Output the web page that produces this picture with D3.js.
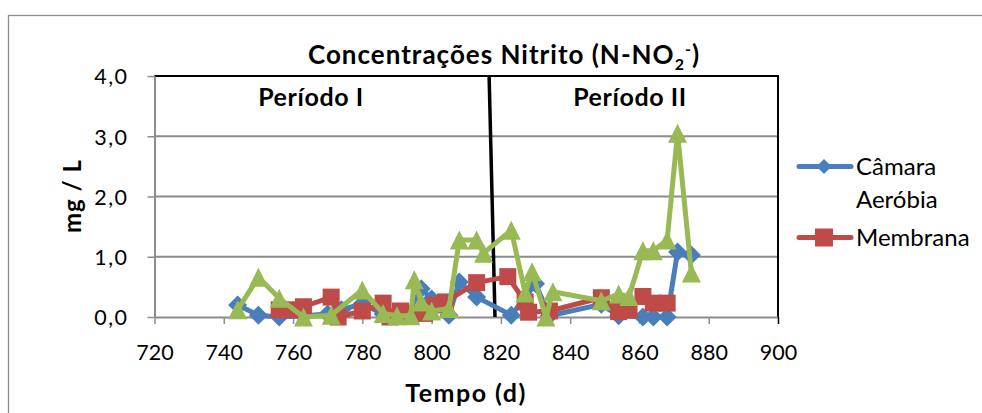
<!DOCTYPE html>
<html>
<head>
<meta charset="utf-8">
<script src="https://cdn.jsdelivr.net/npm/d3@7"></script>
<style>
  html, body { margin: 0; padding: 0; background: #fff; }
  svg { display: block; font-family: Lato, "Open Sans", sans-serif; }
</style>
</head>
<body>
<svg id="chart" width="982" height="413"></svg>
<script>
// Nitrite concentrations (mg/L) by day, per sampling point
const camaraAerobia = [
  [744, 0.20], [750, 0.03], [756, 0.00], [763, 0.02], [770, 0.05], [774, 0.12],
  [780, 0.22], [786, 0.05], [790, 0.02], [793, 0.05], [797, 0.47], [800, 0.30],
  [805, 0.03], [808, 0.58], [813, 0.33], [823, 0.03], [830, 0.55], [834, 0.02],
  [849, 0.21], [854, 0.02], [861, 0.00], [864, 0.00], [868, 0.00], [871, 1.08],
  [875, 1.03]
];
const membrana = [
  [756, 0.12], [760, 0.12], [763, 0.17], [771, 0.33], [773, 0.00], [780, 0.10],
  [786, 0.23], [788, 0.00], [791, 0.10], [794, 0.05], [798, 0.06], [801, 0.20],
  [804, 0.25], [813, 0.57], [822, 0.67], [827, 0.25], [828, 0.08], [834, 0.10],
  [849, 0.32], [854, 0.09], [857, 0.12], [861, 0.34], [864, 0.23], [868, 0.23]
];
const terceiroPonto = [
  [744, 0.12], [750, 0.66], [756, 0.31], [763, 0.00], [771, 0.03], [780, 0.45],
  [786, 0.06], [790, 0.02], [794, 0.02], [795, 0.62], [797, 0.25], [800, 0.10],
  [805, 0.14], [808, 1.28], [813, 1.28], [815, 1.06], [823, 1.44], [827, 0.40],
  [829, 0.75], [833, 0.00], [835, 0.42], [849, 0.27], [854, 0.38], [857, 0.34],
  [861, 1.10], [864, 1.10], [868, 1.28], [871, 3.05], [875, 0.73]
];
const xTicks = [720, 740, 760, 780, 800, 820, 840, 860, 880, 900];
const yTicks = [0, 1, 2, 3, 4];
// boundary between the two operating periods (day, mg/L)
const divisor = [[816.6, 4.0], [818.3, 0.0]];

const svg = d3.select("#chart");
const plotLeft = 154.5, plotRight = 778, plotTop = 76, plotBottom = 317;

const x = d3.scaleLinear().domain([720, 900]).range([plotLeft, plotRight]);
const y = d3.scaleLinear().domain([0, 4]).range([plotBottom, plotTop]);

// marker shapes: square-ish diamond, square, triangle
const markers = {
  diamond: r => `M0,${-r}L${r},0L0,${r}L${-r},0Z`,
  square: r => `M${-r},${-r}H${r}V${r}H${-r}Z`,
  triangle: r => `M0,${-r}L${r},${r}L${-r},${r}Z`
};

// outer chart frame
svg.append("rect")
  .attr("x", 8.5).attr("y", 15.5).attr("width", 1000).attr("height", 420)
  .attr("fill", "none").attr("stroke", "#8c8c8c").attr("stroke-width", 1.3);

// horizontal gridlines
svg.append("g").selectAll("line").data(yTicks.filter(d => d > 0 && d < 4)).join("line")
  .attr("x1", plotLeft).attr("x2", plotRight)
  .attr("y1", d => y(d)).attr("y2", d => y(d))
  .attr("stroke", "#8c8c8c").attr("stroke-width", 2);

// plot area border (top and right)
svg.append("path")
  .attr("d", `M${plotLeft},${y(4)}H${plotRight}V${plotBottom}`)
  .attr("fill", "none").attr("stroke", "#000").attr("stroke-width", 2);

// axes
const fmt = d => d3.format(".1f")(d).replace(".", ",");
const yAxis = svg.append("g").attr("transform", `translate(${plotLeft},0)`)
  .call(d3.axisLeft(y).tickValues(yTicks).tickFormat(fmt).tickSizeInner(7).tickSizeOuter(0));
const xAxis = svg.append("g").attr("transform", `translate(0,${plotBottom})`)
  .call(d3.axisBottom(x).tickValues(xTicks).tickFormat(d3.format("d")).tickSizeInner(7).tickSizeOuter(0));
[yAxis, xAxis].forEach(g => {
  g.select(".domain").attr("stroke", "#8c8c8c").attr("stroke-width", 2);
  g.selectAll(".tick line").attr("stroke", "#8c8c8c").attr("stroke-width", 1.5);
  g.selectAll(".tick text").attr("fill", "#000").attr("font-size", 21.5)
    .attr("font-family", "Lato, sans-serif");
});
yAxis.selectAll(".tick text").attr("x", -26).attr("dy", "0.36em").attr("letter-spacing", 1.5);
xAxis.selectAll(".tick text").attr("y", 43).attr("dy", 0);
xAxis.select(".tick:last-of-type line").attr("stroke", "#000");

// period divider
svg.append("line")
  .attr("x1", x(divisor[0][0])).attr("y1", y(divisor[0][1]))
  .attr("x2", x(divisor[1][0])).attr("y2", y(divisor[1][1]))
  .attr("stroke", "#000").attr("stroke-width", 3.5);

const line = d3.line().x(d => x(d[0])).y(d => y(d[1]));

const series = [
  { data: camaraAerobia, color: "#4a7ebb", shape: markers.diamond, r: 9.5 },
  { data: membrana, color: "#be4b48", shape: markers.square, r: 8.5 },
  { data: terceiroPonto, color: "#98b954", shape: markers.triangle, r: 9.5 }
];

series.forEach(s => {
  const g = svg.append("g");
  g.append("path").datum(s.data).attr("d", line)
    .attr("fill", "none").attr("stroke", s.color).attr("stroke-width", 5)
    .attr("stroke-linejoin", "round").attr("stroke-linecap", "round");
  g.selectAll("path.m").data(s.data).join("path").attr("class", "m")
    .attr("transform", d => `translate(${x(d[0])},${y(d[1])})`)
    .attr("d", s.shape(s.r))
    .attr("fill", s.color);
});

// titles
const title = svg.append("text").attr("x", 504).attr("y", 64)
  .attr("text-anchor", "middle").attr("font-weight", "bold").attr("font-size", 26)
  .attr("letter-spacing", 1);
title.append("tspan").text("Concentrações Nitrito (N-NO");
title.append("tspan").attr("font-size", 16).attr("dy", 6).text("2");
title.append("tspan").attr("font-size", 16).attr("dy", -15).text("-");
title.append("tspan").attr("dy", 9).text(")");

svg.append("text").attr("x", 311).attr("y", 106).attr("text-anchor", "middle")
  .attr("font-weight", "bold").attr("font-size", 25).attr("letter-spacing", 0.6).text("Período I");
svg.append("text").attr("x", 630).attr("y", 106).attr("text-anchor", "middle")
  .attr("font-weight", "bold").attr("font-size", 25).attr("letter-spacing", 0.6).text("Período II");

svg.append("text").attr("x", 466).attr("y", 402).attr("text-anchor", "middle")
  .attr("font-weight", "bold").attr("font-size", 25).attr("letter-spacing", 1.5).text("Tempo (d)");
svg.append("text").attr("transform", "translate(81,196) rotate(-90)")
  .attr("text-anchor", "middle").attr("font-weight", "bold").attr("font-size", 24)
  .attr("letter-spacing", 1).text("mg / L");

// legend
const legend = [
  { lines: ["Câmara", "Aeróbia"], color: "#4a7ebb", shape: markers.diamond, r: 7.5, y: 166.5 },
  { lines: ["Membrana"], color: "#be4b48", shape: markers.square, r: 9, y: 237.5 }
];
legend.forEach(l => {
  svg.append("line").attr("x1", 799).attr("x2", 851).attr("y1", l.y).attr("y2", l.y)
    .attr("stroke", l.color).attr("stroke-width", 5).attr("stroke-linecap", "round");
  svg.append("path").attr("transform", `translate(824,${l.y})`)
    .attr("d", l.shape(l.r)).attr("fill", l.color);
  l.lines.forEach((t, i) => {
    svg.append("text").attr("x", 856).attr("y", l.y + 8.5 + i * 32.5)
      .attr("font-size", 24).text(t);
  });
});
</script>
</body>
</html>
